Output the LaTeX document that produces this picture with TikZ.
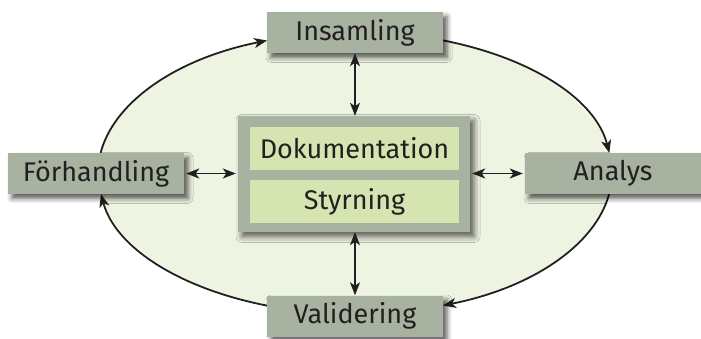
\documentclass[tikz,border=0pt]{standalone}
\usepackage{fontspec}
\setmainfont{Fira Sans}
\usetikzlibrary{arrows.meta,shadows.blur,calc}
\definecolor{boxgray}{HTML}{A7B2A0}
\definecolor{innergreen}{HTML}{D5E4B0}
\definecolor{cyclefill}{HTML}{EEF4E2}
\definecolor{inkdark}{HTML}{231F20}
\tikzset{
  tip/.style={Stealth[length=13pt,width=10pt,inset=3.5pt]},
  stage/.style={draw=none, fill=boxgray, minimum width=176pt, minimum height=41pt,
    inner sep=0pt, text=inkdark, font=\fontsize{27}{31}\selectfont,
    blur shadow={shadow xshift=4pt, shadow yshift=-4.5pt, shadow blur radius=5pt, shadow opacity=65}},
  hubbox/.style={draw=none, fill=boxgray, minimum width=232pt, minimum height=116pt,
    inner sep=0pt,
    blur shadow={shadow xshift=4pt, shadow yshift=-4.5pt, shadow blur radius=6pt, shadow opacity=65}},
  part/.style={draw=none, fill=innergreen, minimum width=209pt, minimum height=43pt,
    inner sep=0pt, text=inkdark, font=\fontsize{27}{31}\selectfont},
  cycle/.style={draw=inkdark, line width=1.8pt, -{Stealth[length=13pt,width=10pt,inset=3.5pt]}},
  link/.style={draw=inkdark, line width=1.8pt,
    {Stealth[length=13pt,width=10pt,inset=3.5pt]}-{Stealth[length=13pt,width=10pt,inset=3.5pt]}}
}
\begin{document}
\begin{tikzpicture}[x=1pt,y=1pt]
\useasboundingbox (0,0) rectangle (701,338);
% cycle background
\coordinate (C) at (355,165);
\fill[cyclefill] (C) ellipse[x radius=257pt, y radius=141pt];
% points on the cycle
\coordinate (p1) at ($(C)+(180:257pt and 141pt)$);
\coordinate (p2) at ($(C)+(90:257pt and 141pt)$);
\coordinate (p3) at ($(C)+(0:257pt and 141pt)$);
\coordinate (p4) at ($(C)+(-90:257pt and 141pt)$);
\draw[cycle] (p1) arc[start angle=180, end angle=110, x radius=257pt, y radius=141pt];
\draw[cycle] (p2) arc[start angle=90, end angle=8.15, x radius=257pt, y radius=141pt];
\draw[cycle] (p3) arc[start angle=0, end angle=-70, x radius=257pt, y radius=141pt];
\draw[cycle] (p4) arc[start angle=-90, end angle=-171.4, x radius=257pt, y radius=141pt];
% stages
\node[stage] (ins) at (355,305.5) {Insamling};
\node[stage] (an) at (613,164.5) {Analys};
\node[stage] (val) at (355,22) {Validering};
\node[stage] (fh) at (96,164.5) {Förhandling};
% central block
\node[hubbox] (hub) at (354,164) {};
\node[part] (dok) at (354.5,189.5) {Dokumentation};
\node[part] (sty) at (354.5,136.5) {Styrning};
% links to the central block
\draw[link] (ins.south) -- (ins.south |- hub.north);
\draw[link] (val.north) -- (val.north |- hub.south);
\draw[link, shorten <=2pt, shorten >=2pt] (fh.east) -- (hub.west |- fh.east);
\draw[link, shorten <=2pt, shorten >=2pt] (hub.east |- an.west) -- (an.west);
\end{tikzpicture}
\end{document}
